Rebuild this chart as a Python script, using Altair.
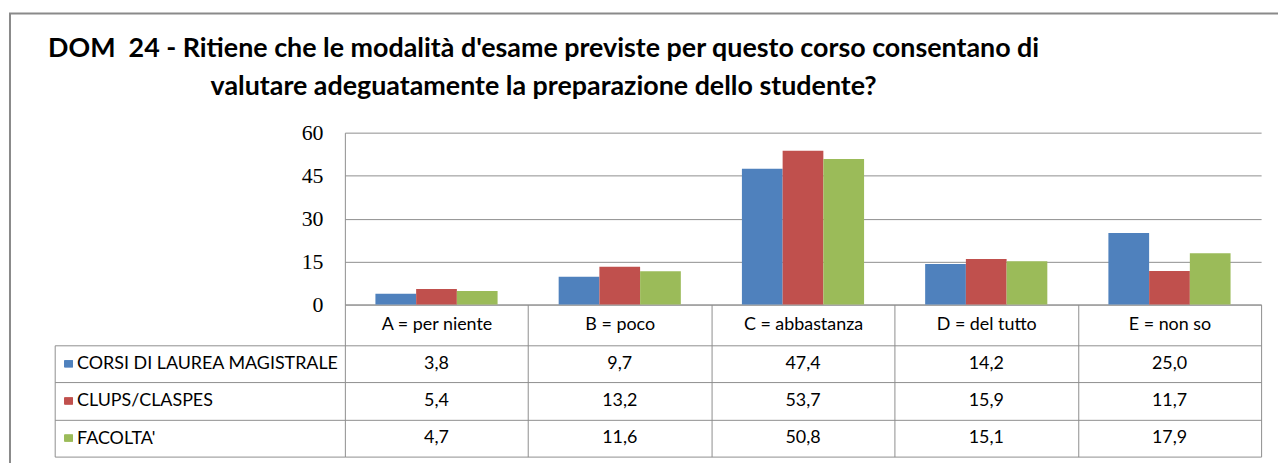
import altair as alt
import pandas as pd

# ---- data ----
categories = ["A = per niente", "B = poco", "C = abbastanza", "D = del tutto", "E = non so"]
series = ["CORSI DI LAUREA MAGISTRALE", "CLUPS/CLASPES", "FACOLTA'"]
corsi_laurea_magistrale = [3.8, 9.7, 47.4, 14.2, 25.0]
clups_claspes = [5.4, 13.2, 53.7, 15.9, 11.7]
facolta = [4.7, 11.6, 50.8, 15.1, 17.9]
y_ticks = [0, 15, 30, 45, 60]
title_lines = [
    "DOM\u00a0 24 - Ritiene che le modalità d'esame previste per questo corso consentano di",
    "valutare adeguatamente la preparazione dello studente?",
]
colors = ["#4F81BD", "#C0504D", "#9BBB59"]

rows = []
for s, vals in zip(series, [corsi_laurea_magistrale, clups_claspes, facolta]):
    for c, v in zip(categories, vals):
        rows.append({"cat": c, "series": s, "value": v})
df = pd.DataFrame(rows)

# ---- layout constants ----
W = 922          # plot / table value columns width
H = 326          # bars + table height
BAR_H = 173      # bar area height
ROW_TOP = 214    # top of first table row
LEG_W = 292      # legend column width
GRID = "#8e8e8e"
FONT = "Lato"

x_enc = alt.X(
    "cat:N",
    sort=categories,
    scale=alt.Scale(domain=categories, paddingInner=0, paddingOuter=0),
    axis=alt.Axis(
        orient="bottom", offset=-(H - BAR_H), title=None,
        domainColor=GRID, domainWidth=1,
        ticks=True, tickBand="extent", tickSize=H - BAR_H, tickColor=GRID, tickWidth=1,
        labelFont=FONT, labelFontSize=18, labelColor="black", labelAngle=0,
        labelPadding=20 - (H - BAR_H), labelBaseline="middle", grid=False,
    ),
)

bars = alt.Chart(df).mark_bar().encode(
    x=x_enc,
    xOffset=alt.XOffset(
        "series:N", sort=series,
        scale=alt.Scale(domain=series, paddingInner=0, paddingOuter=0.75),
    ),
    y=alt.Y(
        "value:Q",
        scale=alt.Scale(domain=[0, 60], range=[BAR_H, 0], nice=False),
        axis=alt.Axis(
            values=y_ticks, title=None, ticks=False, grid=True, gridColor=GRID,
            domainColor=GRID, labelFont="Liberation Serif", labelFontSize=22,
            labelPadding=22, labelColor="black",
        ),
    ),
    color=alt.Color("series:N", sort=series,
                    scale=alt.Scale(domain=series, range=colors), legend=None),
)

table_axis = alt.Axis(
    orient="right", offset=-(W + LEG_W), title=None,
    domain=True, domainColor=GRID,
    ticks=True, tickBand="extent", tickSize=LEG_W, tickColor=GRID,
    grid=True, gridColor=GRID,
    labelFont=FONT, labelFontSize=18, labelColor="black", labelAlign="left",
    labelBaseline="middle", labelPadding=22 - LEG_W, labelLimit=400,
)
table_y = alt.Y(
    "series:N", sort=series,
    scale=alt.Scale(domain=series, range=[ROW_TOP, H], paddingInner=0, paddingOuter=0),
    axis=table_axis,
)

values_text = alt.Chart(df).transform_calculate(
    label="replace(format(datum.value, '.1f'), '.', ',')"
).mark_text(font=FONT, fontSize=18, color="black", align="center", baseline="middle").encode(
    x=alt.X("cat:N", sort=categories,
            scale=alt.Scale(domain=categories, paddingInner=0, paddingOuter=0)),
    y=table_y,
    text="label:N",
)

swatches = alt.Chart(df).mark_point(
    filled=True, opacity=1,
    shape="M-1.25,-1L1.25,-1L1.25,1L-1.25,1Z", size=45,
).encode(
    x=alt.value(-278),
    y=table_y,
    color=alt.Color("series:N", sort=series,
                    scale=alt.Scale(domain=series, range=colors), legend=None),
)

table = alt.layer(values_text, swatches)

frame = alt.Chart(alt.Data(values=[{}])).mark_rect(
    fill="white", fillOpacity=0, stroke="#8a8a8a", strokeWidth=2
).encode(
    x=alt.value(-337), x2=alt.value(980), y=alt.value(-120), y2=alt.value(380)
)

chart = alt.layer(frame, bars, table).resolve_scale(y="independent").properties(
    width=W, height=H,
    autosize=alt.AutoSizeParams(type="none"),
    padding={"left": 339, "top": 124, "right": 17, "bottom": 5},
    title=alt.Title(
        title_lines, anchor="start", align="center", dx=200, dy=64, frame="group",
        font=FONT, fontSize=27, fontWeight="bold", color="black",
        lineHeight=38, baseline="alphabetic", offset=-46,
    ),
).configure_view(stroke=None)

chart.save("out.html", embed_options={"renderer": "svg", "actions": False})
